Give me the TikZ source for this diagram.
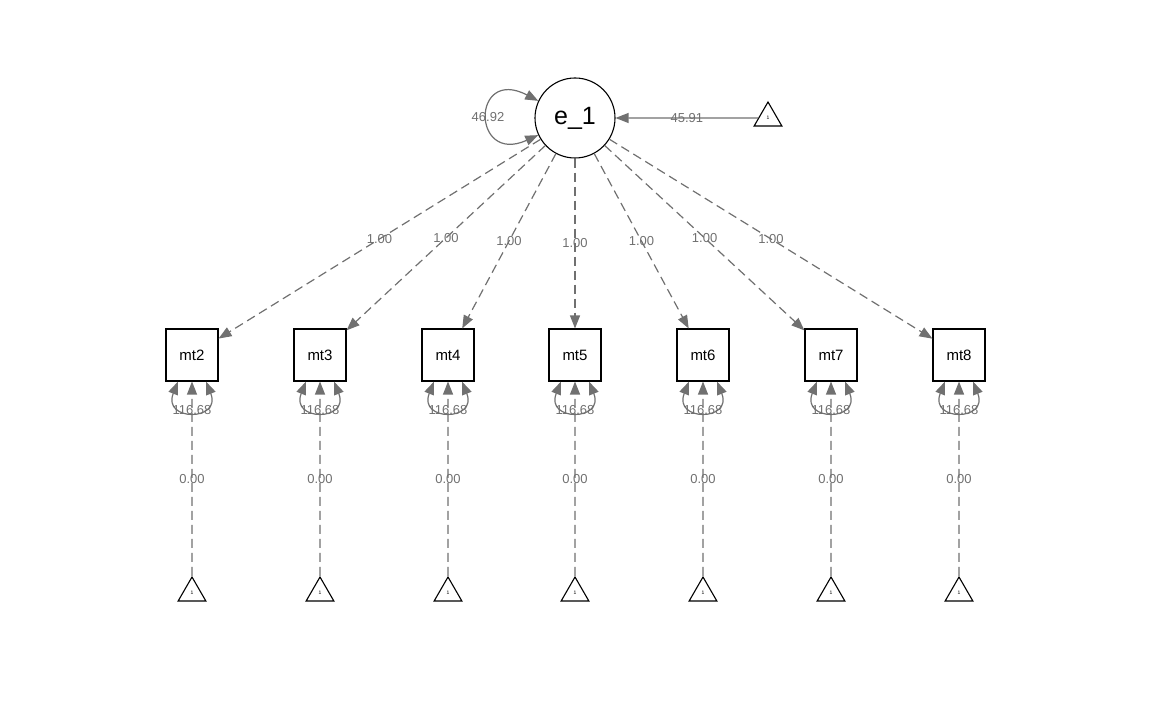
\documentclass[tikz,border=0pt]{standalone}
\usepackage{fontspec}
\setmainfont{Liberation Sans}
\usepackage{tikz}
\usetikzlibrary{shapes.geometric,arrows.meta,positioning}
\definecolor{pathgray}{RGB}{112,112,112}

\begin{document}
\begin{tikzpicture}[
    x=1pt, y=-1pt,
    latent/.style={circle, draw, line width=1.1pt, minimum size=80pt, inner sep=0pt, font=\fontsize{25}{28}\selectfont},
    manifest/.style={rectangle, draw, line width=1.1pt, minimum size=52pt, inner sep=0pt, font=\fontsize{15}{18}\selectfont},
    const/.style={regular polygon, regular polygon sides=3, draw, line width=1.1pt, minimum size=32pt, inner sep=0pt, font=\fontsize{5}{6}\selectfont},
    loading/.style={pathgray, line width=1.2pt, dash pattern=on 9pt off 5pt, -{Triangle[length=13pt,width=10pt]}},
    covar/.style={pathgray, line width=1.2pt, {Triangle[length=13pt,width=10pt]}-{Triangle[length=13pt,width=10pt]}},
    regr/.style={pathgray, line width=1.2pt, -{Triangle[length=13pt,width=10pt]}},
    est/.style={text=pathgray, font=\fontsize{13}{15}\selectfont, inner sep=1pt}
]
\useasboundingbox (0,0) rectangle (1152,711);

% Latent variable and its mean
\node[latent] (e1) at (575,118) {e\_1};
\node[const] (tri0) at (768,118) {1};

% Indicators
\node[manifest] (mt2) at (192,355) {mt2};
\node[manifest] (mt3) at (320,355) {mt3};
\node[manifest] (mt4) at (448,355) {mt4};
\node[manifest] (mt5) at (575,355) {mt5};
\node[manifest] (mt6) at (703,355) {mt6};
\node[manifest] (mt7) at (831,355) {mt7};
\node[manifest] (mt8) at (959,355) {mt8};

% Intercept constants
\node[const] (tri2) at (192,593) {1};
\node[const] (tri3) at (320,593) {1};
\node[const] (tri4) at (448,593) {1};
\node[const] (tri5) at (575,593) {1};
\node[const] (tri6) at (703,593) {1};
\node[const] (tri7) at (831,593) {1};
\node[const] (tri8) at (959,593) {1};

% Variance and mean of e_1
\draw[covar] (e1.155) .. controls +(-67,-35) and +(-67,30) .. (e1.205) node[est, pos=0.5, yshift=-1pt] {46.92};
\draw[regr] (tri0) -- node[est] {45.91} (e1);

% Loadings
\draw[loading] (e1) -- node[est] {1.00} (mt2);
\draw[loading] (e1) -- node[est] {1.00} (mt3);
\draw[loading] (e1) -- node[est] {1.00} (mt4);
\draw[loading] (e1) -- node[est] {1.00} (mt5);
\draw[loading] (e1) -- node[est] {1.00} (mt6);
\draw[loading] (e1) -- node[est] {1.00} (mt7);
\draw[loading] (e1) -- node[est] {1.00} (mt8);

% Residual variances
\draw[covar] ([xshift=-14pt]mt2.south) .. controls +(-16,40) and +(16,40) .. ([xshift=14pt]mt2.south) node[est, pos=0.5, yshift=2pt] {116.68};
\draw[covar] ([xshift=-14pt]mt3.south) .. controls +(-16,40) and +(16,40) .. ([xshift=14pt]mt3.south) node[est, pos=0.5, yshift=2pt] {116.68};
\draw[covar] ([xshift=-14pt]mt4.south) .. controls +(-16,40) and +(16,40) .. ([xshift=14pt]mt4.south) node[est, pos=0.5, yshift=2pt] {116.68};
\draw[covar] ([xshift=-14pt]mt5.south) .. controls +(-16,40) and +(16,40) .. ([xshift=14pt]mt5.south) node[est, pos=0.5, yshift=2pt] {116.68};
\draw[covar] ([xshift=-14pt]mt6.south) .. controls +(-16,40) and +(16,40) .. ([xshift=14pt]mt6.south) node[est, pos=0.5, yshift=2pt] {116.68};
\draw[covar] ([xshift=-14pt]mt7.south) .. controls +(-16,40) and +(16,40) .. ([xshift=14pt]mt7.south) node[est, pos=0.5, yshift=2pt] {116.68};
\draw[covar] ([xshift=-14pt]mt8.south) .. controls +(-16,40) and +(16,40) .. ([xshift=14pt]mt8.south) node[est, pos=0.5, yshift=2pt] {116.68};

% Intercepts (dashed)
\draw[loading] (tri2) -- node[est] {0.00} (mt2);
\draw[loading] (tri3) -- node[est] {0.00} (mt3);
\draw[loading] (tri4) -- node[est] {0.00} (mt4);
\draw[loading] (tri5) -- node[est] {0.00} (mt5);
\draw[loading] (tri6) -- node[est] {0.00} (mt6);
\draw[loading] (tri7) -- node[est] {0.00} (mt7);
\draw[loading] (tri8) -- node[est] {0.00} (mt8);

\end{tikzpicture}
\end{document}
